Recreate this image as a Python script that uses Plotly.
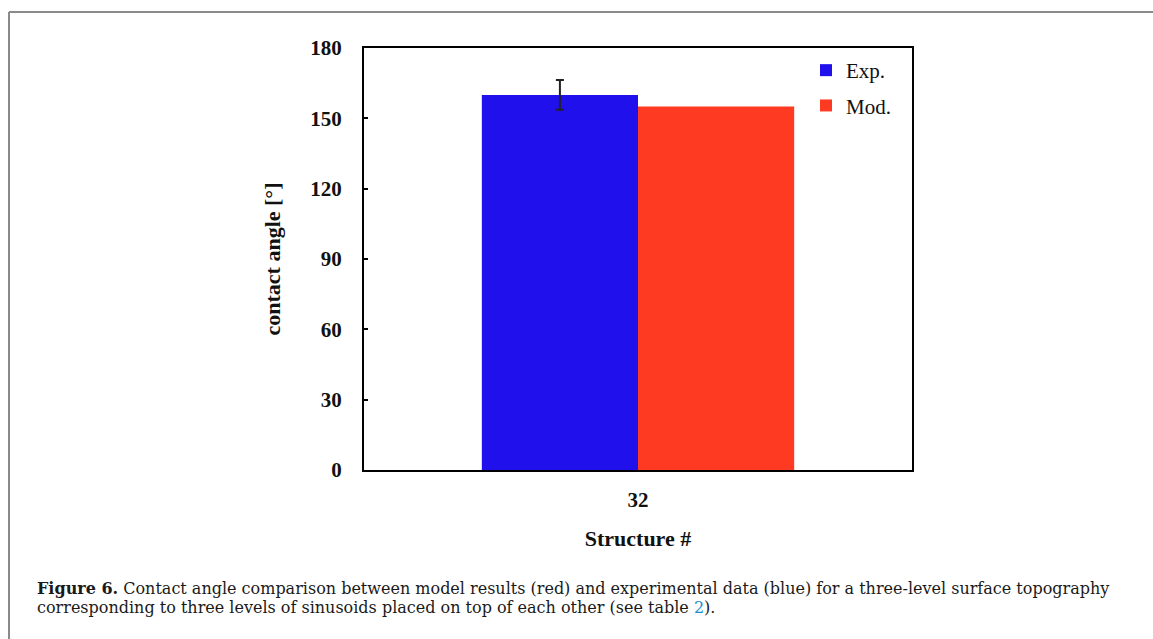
import plotly.graph_objects as go

categories = ["32"]
exp_values = [160.0]
exp_errors = [6.3]
mod_values = [155.0]
y_ticks = [0, 30, 60, 90, 120, 150, 180]
series_names = ["Exp.", "Mod."]

W, H = 1153, 639
L, R, T, B = 364, 912, 48, 470  # plot area pixel box


def px(x):
    return (x - L) / (R - L)


def py(y):
    return (B - y) / (B - T)


fig = go.Figure()
fig.add_trace(go.Bar(
    x=categories, y=exp_values, name=series_names[0], legendgroup="a",
    marker=dict(color="#2010EC", line=dict(width=0)),
    error_y=dict(type="data", array=exp_errors, visible=True,
                 color="#222222", thickness=2, width=4),
))
fig.add_trace(go.Bar(
    x=categories, y=mod_values, name=series_names[1], legendgroup="b",
    marker=dict(color="#FF3A22", line=dict(width=0)),
))

serif = "Liberation Serif"
cap_family = "DejaVu Serif"

fig.update_layout(
    width=W, height=H,
    margin=dict(l=L, r=W - R, t=T, b=H - B),
    paper_bgcolor="white", plot_bgcolor="white",
    barmode="group", bargap=0.43, bargroupgap=0,
    font=dict(family=serif, color="#111111"),
    showlegend=True,
    legend=dict(x=px(806), y=py(50), xanchor="left", yanchor="top",
                bgcolor="rgba(0,0,0,0)", borderwidth=0,
                font=dict(family=serif, size=21, color="#111111"),
                tracegroupgap=5, itemwidth=30),
    xaxis=dict(
        showline=True, linecolor="black", linewidth=2, mirror=True,
        ticks="", tickfont=dict(family=serif, size=21, weight="bold", color="#111111"),
        ticklabelstandoff=10,
        title=dict(text="Structure #", standoff=19,
                   font=dict(family=serif, size=22, weight="bold", color="#111111")),
        showgrid=False, zeroline=False,
    ),
    yaxis=dict(
        range=[0, 180], tickvals=y_ticks,
        showline=True, linecolor="black", linewidth=2, mirror=True,
        ticks="inside", ticklen=4, tickwidth=2, tickcolor="black",
        tickfont=dict(family=serif, size=21, weight="bold", color="#111111"),
        ticklabelstandoff=16,
        title=dict(text="contact angle [°]", standoff=24,
                   font=dict(family=serif, size=22, weight="bold", color="#111111")),
        showgrid=False, zeroline=False,
    ),
)

# Outer figure frame (left and top edges visible)
frame_color = "#8a8a8a"
fig.add_shape(type="line", xref="paper", yref="paper",
              x0=px(9), x1=px(9), y0=py(12), y1=py(H + 5),
              line=dict(color=frame_color, width=2))
fig.add_shape(type="line", xref="paper", yref="paper",
              x0=px(9), x1=px(W + 5), y0=py(12), y1=py(12),
              line=dict(color=frame_color, width=2))

cap_font = dict(family=cap_family, size=16, color="#1a1a1a")
fig.add_annotation(
    xref="paper", yref="paper", x=px(35), y=py(588), xanchor="left", yanchor="middle",
    showarrow=False, font=cap_font,
    text="<b>Figure 6.</b> Contact angle comparison between model results (red) and experimental data (blue) for a three-level surface topography",
)
fig.add_annotation(
    xref="paper", yref="paper", x=px(35), y=py(607), xanchor="left", yanchor="middle",
    showarrow=False, font=cap_font,
    text="corresponding to three levels of sinusoids placed on top of each other (see table <span style='color:#1a8fd0'>2</span>).",
)

fig.write_html("out.html")
